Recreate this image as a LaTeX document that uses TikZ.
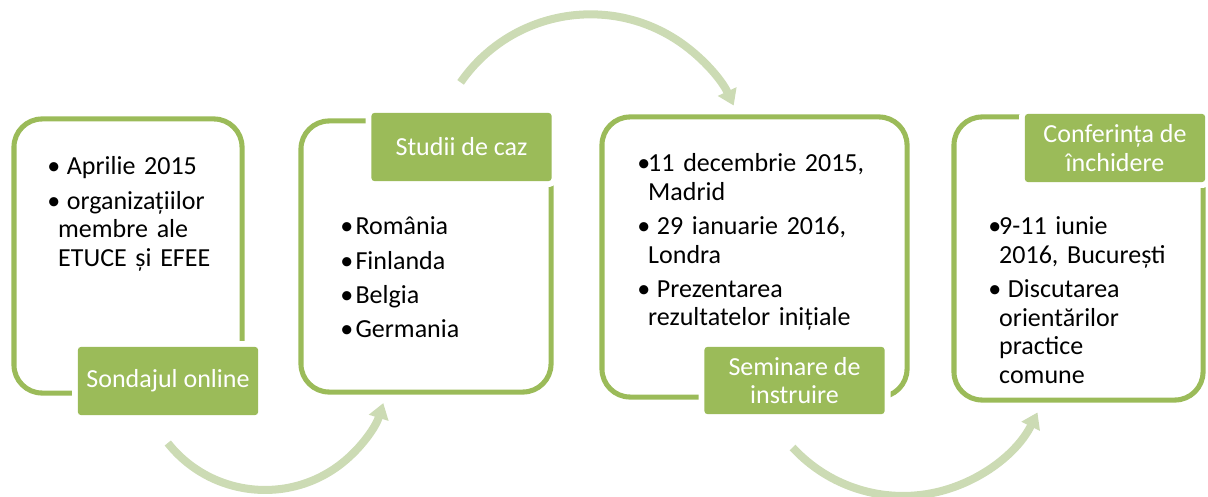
\documentclass[tikz,border=0pt]{standalone}
\usepackage{fontspec}
\setmainfont{Carlito}
\usetikzlibrary{arrows.meta}
\definecolor{framegreen}{RGB}{155,187,89}
\definecolor{arrowgreen}{RGB}{204,219,180}
\newcommand{\bitem}[1]{\hangindent=0.42em\hangafter=1\noindent\makebox[0.42em][l]{\textbullet}#1\par}

\begin{document}
\begin{tikzpicture}[x=0.025cm, y=0.025cm,
    frame/.style={draw=framegreen, line width=3.6pt, rounded corners=20pt, inner sep=0},
    stage/.style={fill=framegreen, text=white, rounded corners=2pt, minimum width=4.5cm, minimum height=1.7cm,
      align=center, font=\fontsize{18.5pt}{20pt}\selectfont, preaction={draw=white, line width=8.5pt}},
    body/.style={anchor=base west, inner sep=0, text width=6cm, align=left,
      font=\fontsize{18.5pt}{20.3pt}\selectfont, execute at begin node={\setlength{\parskip}{4pt}}},
    flow/.style={draw=arrowgreen, line width=5.7pt, -{Triangle[width=14pt, length=11pt]}},
  ]
  \useasboundingbox (0,0) rectangle (1208,-497);
  \node[frame, minimum width=5.7cm, minimum height=6.85cm] (f1) at (128,-256) {};
  \node[frame, minimum width=6.25cm, minimum height=6.775cm] (f2) at (426,-256.5) {};
  \node[frame, minimum width=7.625cm, minimum height=7cm] (f3) at (754.5,-257) {};
  \node[frame, minimum width=6.225cm, minimum height=7.075cm] (f4) at (1078.5,-258.5) {};

  \node[stage] (s1) at (168,-381) {Sondajul online};
  \node[stage] (s2) at (461.5,-147) {Studii de caz};
  \node[stage, minimum height=1.675cm] (s3) at (794.5,-380.5) {Seminare de\\instruire};
  \node[stage] (s4) at (1115,-148) {Conferința de\\închidere};

  \node[body] (t1) at (47,-175) {\bitem{\ Aprilie 2015}\bitem{\ organizațiilor\newline membre ale\newline ETUCE și EFEE}};
  \node[body] (t2) at (340,-235) {\bitem{\,România}\bitem{\,Finlanda}\bitem{\,Belgia}\bitem{\,Germania}};
  \node[body] (t3) at (637,-172) {\bitem{11 decembrie 2015,\newline Madrid}\bitem{\ 29 ianuarie 2016,\newline Londra}\bitem{\ Prezentarea\newline rezultatelor inițiale}};
  \node[body] (t4) at (988,-235) {\bitem{9-11 iunie\newline 2016, București}\bitem{\ Discutarea\newline orientărilor\newline practice\newline comune}};

  \coordinate (c1) at (460.6,-82.4);
  \draw[flow] (c1) arc[start angle=145.3, end angle=25, radius=158];
  \coordinate (c2) at (167.8,-443);
  \draw[flow] (c2) arc[start angle=218.4, end angle=342.6, radius=124];
  \coordinate (c3) at (792.6,-447.5);
  \draw[flow] (c3) arc[start angle=222.6, end angle=333.7, radius=150];
\end{tikzpicture}
\end{document}
